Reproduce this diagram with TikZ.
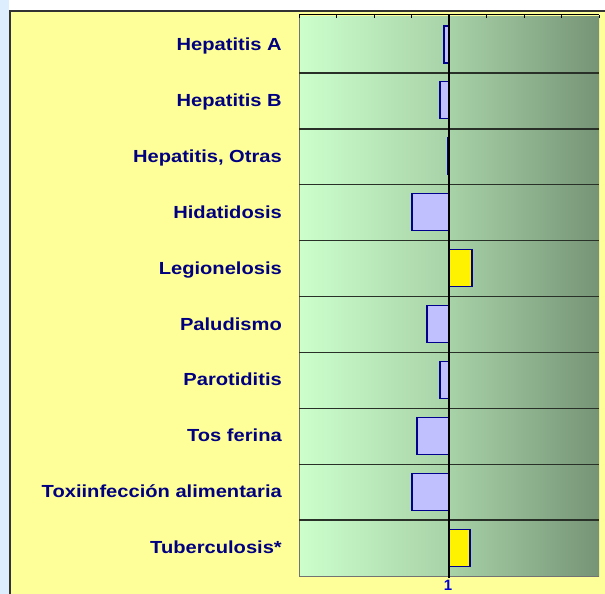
\documentclass[tikz,border=0pt]{standalone}
\usepackage{fontspec}
\setmainfont{Liberation Sans}
\usetikzlibrary{positioning}
\definecolor{panelyellow}{RGB}{255,255,153}
\definecolor{stripblue}{RGB}{221,238,255}
\definecolor{labelnavy}{RGB}{0,0,128}
\definecolor{gleft}{RGB}{204,255,204}
\definecolor{gmid}{RGB}{168,210,168}
\definecolor{gright}{RGB}{118,148,118}
\definecolor{barblue}{RGB}{192,192,255}
\definecolor{baredge}{RGB}{0,0,140}
\definecolor{rowline}{RGB}{40,48,40}
\tikzset{
  lbl/.style={anchor=base east, inner sep=0pt, text=labelnavy, font=\fontsize{17.5}{20}\selectfont\bfseries},
  negbar/.style={fill=barblue, draw=baredge, line width=1.1pt},
  posbar/.style={fill=yellow, draw=baredge, line width=1.1pt},
  sep/.style={draw=rowline, line width=1.4pt},
}
\begin{document}
\begin{tikzpicture}[x=1pt,y=-1pt]
\useasboundingbox (0,0) rectangle (605,594);
\fill[white] (0,0) rectangle (605,594);
\fill[stripblue] (0,0) rectangle (9,594);
\begin{scope}
\clip (0,0) rectangle (605,594);
\fill[panelyellow,draw=black!80,line width=1.2pt] (10,11) rectangle (640,640);
\end{scope}
% plot area with gradient
\shade[left color=gleft, right color=gmid] (299,17) rectangle (449,576);
\shade[left color=gmid, right color=gright] (449,17) rectangle (599,576);
\draw[black!55, line width=0.8pt] (299,17) -- (299,576) -- (599,576);
% tick axis
\draw[black, line width=1pt] (299,15) -- (599,15);
\foreach \i in {0,...,8} {
  \draw[black, line width=0.8pt] ({299+37.5*\i},15) -- ({299+37.5*\i},18);
}
% row separators
\foreach \r in {1,...,9} {
  \draw[sep] (299,{17+55.9*\r}) -- (599,{17+55.9*\r});
}
% bars
\foreach \lo/\hi/\r/\st in {444/449/0/negbar, 440/449/1/negbar, 447.7/449/2/negbar, 412/449/3/negbar, 449/472/4/posbar, 427/449/5/negbar, 440/449/6/negbar, 417/449/7/negbar, 412/449/8/negbar, 449/470/9/posbar} {
  \path[\st] (\lo,{17+55.9*\r+9}) rectangle (\hi,{17+55.9*\r+46});
}
% center line
\draw[black, line width=1.2pt] (449,15) -- (449,578);
\node[anchor=base, inner sep=0pt, text=blue!85!black, font=\fontsize{15}{17}\selectfont\bfseries] (one) at (448,590) {1};
% labels
\foreach \t [count=\r from 0] in {Hepatitis A, Hepatitis B, {Hepatitis, Otras}, Hidatidosis, Legionelosis, Paludismo, Parotiditis, Tos ferina, Toxiinfección alimentaria, Tuberculosis*} {
  \node[lbl] (l\r) at (282,{17+55.9*\r+33.5}) {\scalebox{1.15}[1]{\t}};
}
\end{tikzpicture}
\end{document}
